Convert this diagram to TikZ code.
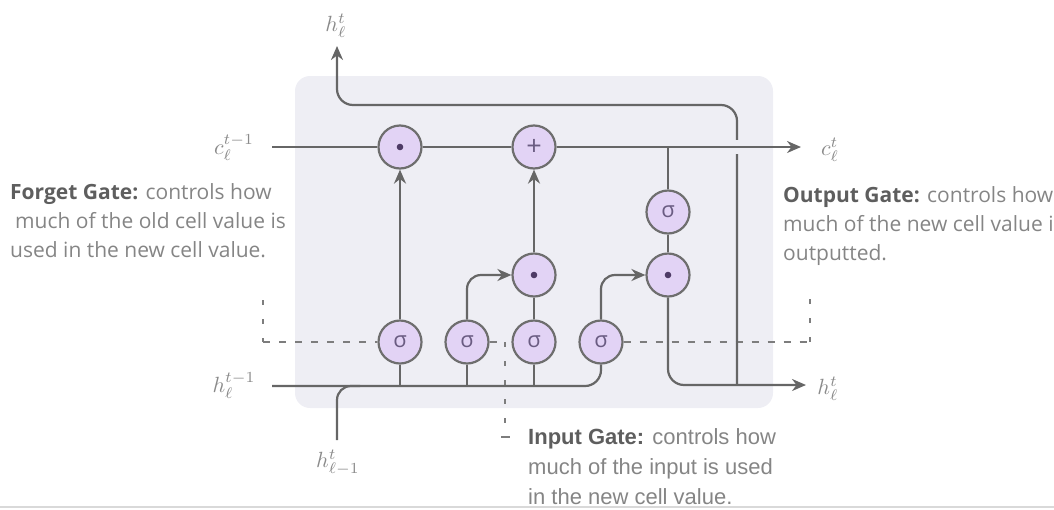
\documentclass[tikz,border=0pt]{standalone}
\usepackage{fontspec}
\setmainfont{Open Sans}
\newfontfamily\arialf{Liberation Sans}
\usetikzlibrary{arrows.meta}
\definecolor{boxbg}{HTML}{EEEEF4}
\definecolor{ln}{HTML}{666666}
\definecolor{cfill}{HTML}{E2D3F5}
\definecolor{cbord}{HTML}{6E6E6E}
\definecolor{sym}{HTML}{6A5C82}
\definecolor{dotc}{HTML}{4E3B66}
\definecolor{txt}{HTML}{858585}
\definecolor{txtb}{HTML}{5E5E5E}
\definecolor{mlab}{HTML}{8A8A8A}
\newcommand{\mlab}[1]{\scalebox{2.2}{$#1$}}
\begin{document}
\begin{tikzpicture}[x=1pt,y=-1pt,
  wire/.style={draw=ln,line width=2.2pt},
  arr/.style={wire,-{Stealth[length=14pt,width=12pt]}},
  gate/.style={circle,draw=cbord,line width=2.2pt,fill=cfill,minimum size=43pt,inner sep=0pt},
  sig/.style={gate,font=\fontsize{22}{22}\selectfont,text=sym},
  mul/.style={gate,path picture={\fill[dotc] (path picture bounding box.center) circle (3.3pt);}},
  add/.style={gate,font=\fontsize{27}{27}\selectfont,text=sym},
  dashh/.style={draw=ln!85,line width=2pt,dash pattern=on 7pt off 9pt},
  dashv/.style={draw=ln!85,line width=2pt,dash pattern=on 5pt off 14pt},
  mathlab/.style={text=mlab},
  note/.style={anchor=base west,text=txt,font=\fontsize{21}{21}\selectfont,inner sep=0pt},
  notei/.style={note,font=\arialf\fontsize{22}{22}\selectfont}]
\useasboundingbox (0,0) rectangle (1054,509);
\clip (0,0) rectangle (1054,509);
% background box
\fill[boxbg,rounded corners=15pt] (295,76) rectangle (773,408);
% coordinates
\coordinate (cin) at (272,147);
\coordinate (cout) at (801,147);
\coordinate (cb) at (668,147);
\coordinate (hin) at (272,386);
\coordinate (hout) at (806,385);
\coordinate (hb) at (737,385);
\coordinate (htc2) at (737,105);
\coordinate (htc1) at (337,105);
\coordinate (ht) at (337,46);
\coordinate (hx) at (337,440);
\coordinate (hm) at (360,386);
\coordinate (gapa) at (729,147);
\coordinate (gapb) at (745,147);
% gates
\node[mul] (m1) at (400,147) {};
\node[add] (p) at (534,147) {+};
\node[sig] (so) at (668,212) {σ};
\node[mul] (m2) at (534,275) {};
\node[mul] (m3) at (668,275) {};
\node[sig] (f) at (400,342) {σ};
\node[sig] (i1) at (467,342) {σ};
\node[sig] (i2) at (534,342) {σ};
\node[sig] (o) at (601,342) {σ};
% dashed annotation leaders
\coordinate (fv) at (263,300);
\coordinate (fc) at (263,342);
\coordinate (ic) at (505,342);
\coordinate (iv) at (505,428);
\coordinate (ida) at (501,437);
\coordinate (idb) at (510,437);
\coordinate (oc) at (810,342);
\coordinate (ov) at (810,288);
\draw[dashv] (fv) -- (fc);
\draw[dashh] (fc) -- (f.west);
\draw[dashh] (i1.east) -- (ic);
\draw[dashv] (ic) -- (iv);
\draw[ln!85,line width=2pt] (ida) -- (idb);
\draw[dashh] (o.east) -- (oc);
\draw[dashv] (oc) -- (ov);
% hidden state output path (drawn before c line, with a gap)
\draw[arr,rounded corners=16pt] (hb) -- (htc2) -- (htc1) -- (ht);
\draw[boxbg,line width=14pt] (gapa) -- (gapb);
% cell state line
\draw[wire] (cin) -- (m1);
\draw[wire] (m1) -- (p);
\draw[arr] (p) -- (cout);
\draw[wire] (cb) -- (so);
\draw[wire] (so) -- (m3);
\draw[arr,rounded corners=16pt] (m3.south) |- (hout);
% input line
\draw[wire,rounded corners=16pt] (hin) -| (o.south);
\draw[wire,rounded corners=14pt] (hx) |- (hm);
\draw[wire] (f.south) -- (f.south |- hin);
\draw[wire] (i1.south) -- (i1.south |- hin);
\draw[wire] (i2.south) -- (i2.south |- hin);
% gate connections
\draw[arr] (f) -- (m1);
\draw[wire] (i2) -- (m2);
\draw[arr] (m2) -- (p);
\draw[arr,rounded corners=14pt] (i1.north) |- (m2.west);
\draw[arr,rounded corners=14pt] (o.north) |- (m3.west);
% math labels
\node[mathlab] (lht) at (336,26) {\mlab{h_\ell^t}};
\node[mathlab] (lcin) at (234,148) {\mlab{c_\ell^{t-1}}};
\node[mathlab] (lcout) at (830,150) {\mlab{c_\ell^t}};
\node[mathlab] (lhin) at (234,386) {\mlab{h_\ell^{t-1}}};
\node[mathlab] (lhout) at (828,389) {\mlab{h_\ell^t}};
\node[mathlab] (lhx) at (338,463) {\mlab{h_{\ell-1}^t}};
% notes
\node[note] (f1) at (10,199) {{\bfseries\color{txtb}Forget Gate:} controls how};
\node[note] (f2) at (15,228) {much of the old cell value is};
\node[note] (f3) at (10,257) {used in the new cell value.};
\node[note] (o1) at (783,202) {{\bfseries\color{txtb}Output Gate:} controls how};
\node[note] (o2) at (783,231) {much of the new cell value is};
\node[note] (o3) at (783,260) {outputted.};
\node[notei] (n1) at (528,444) {{\bfseries\color{txtb}Input Gate:} controls how};
\node[notei] (n2) at (528,474) {much of the input is used};
\node[notei] (n3) at (528,504) {in the new cell value.};
\coordinate (bl) at (0,507);
\coordinate (br) at (1054,507);
\draw[black!15,line width=1.2pt] (bl) -- (br);
\end{tikzpicture}
\end{document}
